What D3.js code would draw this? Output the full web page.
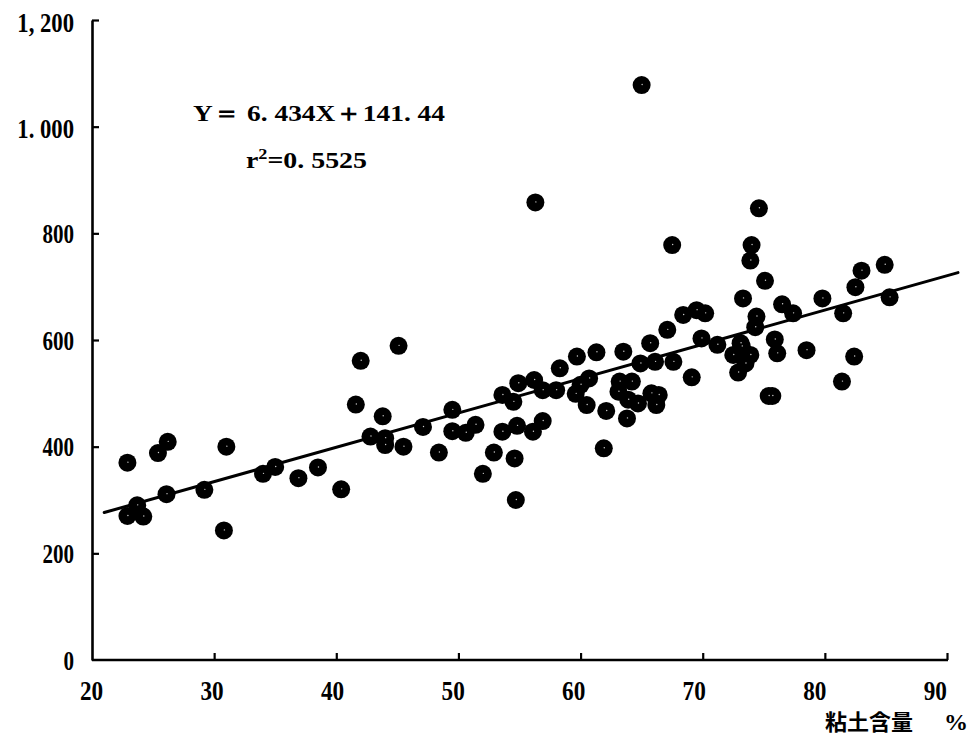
<!DOCTYPE html>
<html lang="ja">
  <head>
    <meta charset="UTF-8" />
    <title>clay vs yield</title>
    <style>
      body { margin: 0; background: #fff; }
    </style>
  </head>
  <body>
    <svg id="chart" width="972" height="738"></svg>
    <script src="https://cdn.jsdelivr.net/npm/d3@7"></script>
    <script>
      // clay content (%) and the y value
      var clayX = [22.9, 25.4, 26.2, 31.0, 42.0, 41.6, 42.8, 43.8, 22.9, 24.2,
        23.7, 26.1, 29.2, 30.8, 34.0, 35.0, 36.9, 38.5, 40.4, 45.1,
        44.0, 45.5, 47.1, 48.4, 49.5, 49.5, 50.6, 51.4, 52.0, 52.9,
        53.6, 53.6, 54.5, 54.8, 54.6, 54.7, 54.9, 56.2, 56.1, 56.9,
        56.9, 58.0, 58.3, 59.7, 59.6, 60.5, 60.0, 60.7, 61.3, 62.1,
        61.9, 63.5, 63.8, 63.1, 63.2, 64.2, 63.9, 64.7, 64.9, 65.7,
        66.1, 65.8, 66.2, 66.4, 67.1, 67.6, 74.6, 67.5, 74.0, 73.9,
        75.1, 73.3, 76.5, 77.4, 79.8, 83.0, 82.5, 84.9, 85.3, 81.5,
        82.4, 81.4, 78.5, 75.7, 76.1, 75.9, 74.4, 74.3, 68.4, 69.5,
        70.2, 69.9, 71.2, 69.1, 72.5, 73.2, 73.9, 73.1, 72.9, 73.5,
        65.0, 56.3, 75.4, 44.0];
      var yieldY = [370, 388, 409, 400, 561, 479, 419, 457, 270, 269,
        290, 311, 319, 243, 349, 362, 341, 361, 320, 589,
        403, 400, 437, 389, 469, 429, 426, 441, 349, 389,
        497, 428, 484, 439, 378, 300, 519, 525, 428, 448,
        506, 506, 547, 569, 499, 478, 516, 528, 577, 467,
        397, 578, 453, 503, 522, 522, 488, 481, 556, 594,
        559, 500, 478, 497, 619, 559, 847, 778, 778, 749,
        711, 678, 667, 650, 678, 730, 699, 741, 680, 650,
        569, 522, 581, 495, 575, 601, 644, 624, 647, 656,
        650, 603, 591, 530, 572, 588, 572, 594, 539, 556,
        1078, 858, 495, 416];

      var xTicks = [20, 30, 40, 50, 60, 70, 80, 90];
      var yTicks = [0, 200, 400, 600, 800, 1000, 1200];
      var yTickLabels = ['0', '200', '400', '600', '800', '1. 000', '1, 200'];

      var slope = 6.434, intercept = 141.44, r2 = '0. 5525';
      var lineRange = [21, 90.9];

      var svg = d3.select('#chart');

      var x = d3.scaleLinear().domain([20, 90]).range([92, 947]);
      var y = d3.scaleLinear().domain([0, 1200]).range([660, 20]);

      var numFont = '"Liberation Serif", "DejaVu Serif", serif';

      // x axis, ticks pointing up
      var xAxis = svg.append('g')
        .attr('transform', `translate(0,${y(0)})`)
        .call(d3.axisBottom(x).tickValues(xTicks).tickSizeInner(-7).tickSizeOuter(0).tickPadding(0)
          .tickFormat(d => d));
      xAxis.select('.domain').attr('stroke-width', 2.6).attr('d', `M${x(20)},0H${x(90) + 1}`);
      xAxis.selectAll('.tick line').attr('stroke-width', 2.2);
      xAxis.selectAll('.tick').filter(d => d === 20).select('line').remove();
      xAxis.selectAll('.tick text')
        .attr('font-family', numFont).attr('font-weight', 'bold').attr('font-size', 27)
        .attr('fill', '#000')
        .attr('dy', null)
        .attr('y', 0)
        .attr('transform', d => `translate(${-1 - (d - 20) * 0.16},40) scale(0.86,1)`);

      // y axis, ticks pointing right
      var yAxis = svg.append('g')
        .attr('transform', `translate(${x(20)},0)`)
        .call(d3.axisLeft(y).tickValues(yTicks).tickSizeInner(-7).tickSizeOuter(0).tickPadding(0)
          .tickFormat((d, i) => yTickLabels[i]));
      yAxis.select('.domain').attr('stroke-width', 2.6);
      yAxis.selectAll('.tick line').attr('stroke-width', 2.2);
      yAxis.selectAll('.tick').filter(d => d === 0).select('line').remove();
      yAxis.selectAll('.tick text')
        .attr('font-family', numFont).attr('font-weight', 'bold').attr('font-size', 27)
        .attr('fill', '#000')
        .attr('x', 0)
        .attr('dy', '0.34em')
        .attr('transform', d => d >= 1000 ? 'translate(-18,2) scale(0.84,1)' : 'translate(-18,0) scale(0.78,1)');

      // regression line
      var line = d3.line().x(d => x(d)).y(d => y(slope * d + intercept));
      svg.append('path')
        .attr('d', line(lineRange))
        .attr('fill', 'none')
        .attr('stroke', '#000')
        .attr('stroke-width', 3)
        .attr('stroke-linecap', 'round');

      // points
      var pts = d3.range(clayX.length).map(i => ({ cx: clayX[i], cy: yieldY[i] }));
      svg.append('g')
        .selectAll('circle')
        .data(pts)
        .join('circle')
        .attr('cx', d => x(d.cx))
        .attr('cy', d => y(d.cy))
        .attr('r', 9)
        .attr('fill', '#000');
      svg.append('g')
        .selectAll('circle')
        .data(pts)
        .join('circle')
        .attr('cx', d => x(d.cx) + 0.5)
        .attr('cy', d => y(d.cy) - 0.5)
        .attr('r', 0.7)
        .attr('fill', '#fff')
        .attr('opacity', 0.8);

      // equation
      svg.append('text')
        .attr('x', 193).attr('y', 121)
        .attr('font-family', numFont).attr('font-size', 24).attr('font-weight', 'bold')
        .attr('textLength', 252).attr('lengthAdjust', 'spacingAndGlyphs')
        .text(`Y＝ ${d3.format('.3f')(slope).replace('.', '. ')}X＋${d3.format('.2f')(intercept).replace('.', '. ')}`);

      var rt = svg.append('text')
        .attr('x', 246).attr('y', 168)
        .attr('font-family', numFont).attr('font-size', 23).attr('font-weight', 'bold')
        .attr('textLength', 121).attr('lengthAdjust', 'spacingAndGlyphs');
      rt.append('tspan').text('r');
      rt.append('tspan').attr('font-size', 15).attr('dy', -9).text('2');
      rt.append('tspan').attr('dy', 9).text('=' + r2);

      // x axis title
      svg.append('text')
        .attr('x', 825).attr('y', 730)
        .attr('font-family', '"Noto Sans CJK JP", sans-serif').attr('font-weight', 'bold')
        .attr('font-size', 22)
        .text('粘土含量');
      svg.append('text')
        .attr('x', 944).attr('y', 730)
        .attr('font-family', numFont).attr('font-weight', 'bold')
        .attr('font-size', 24)
        .text('%');
    </script>
  </body>
</html>
